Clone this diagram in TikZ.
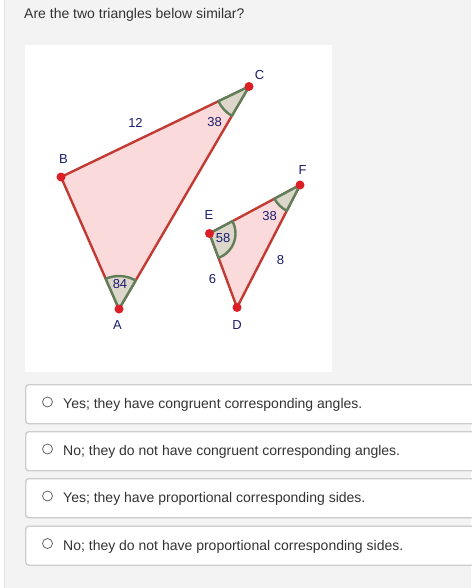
\documentclass[tikz,border=0pt]{standalone}
\usepackage{fontspec}
\setmainfont{Liberation Sans}

\definecolor{pagegrey}{HTML}{F3F3F3}
\definecolor{edgegrey}{HTML}{E0E0E0}
\definecolor{boxgrey}{HTML}{CDCDCD}
\definecolor{textgrey}{HTML}{333333}
\definecolor{radiogrey}{HTML}{666666}
\definecolor{edgered}{HTML}{C23B33}
\definecolor{pinkfill}{HTML}{FADADB}
\definecolor{dotred}{HTML}{DC1F26}
\definecolor{anggreen}{HTML}{5F7F58}
\definecolor{angfill}{HTML}{DDD6CB}
\definecolor{navy}{HTML}{1C1C72}

\begin{document}
\begin{tikzpicture}[x=1pt, y=-1pt,
		vertex/.style={circle, fill=dotred, inner sep=0pt, minimum size=9pt},
		lbl/.style={text=navy, font=\fontsize{13}{15}\selectfont, inner sep=0pt},
		side/.style={draw=edgered, fill=pinkfill, line width=2.4pt, line join=round},
		angmark/.style={draw=anggreen, fill=angfill, line width=2.4pt, line join=round},
		optbox/.style={draw=boxgrey, fill=white, line width=1.4pt, rounded corners=3pt, anchor=north west, inner sep=0pt, minimum width=470pt, minimum height=39pt},
		radio/.style={circle, draw=radiogrey, fill=white, line width=0.8pt, inner sep=0pt, minimum size=10pt},
		opttext/.style={anchor=base west, text=textgrey, font=\fontsize{14}{16}\selectfont, inner sep=0pt}]
		
		\useasboundingbox (0,0) rectangle (471,588);
		
		% Page
		
		\fill[white] (0,0) rectangle (471,588);
		\fill[pagegrey] (5,0) rectangle (471,588);
		\draw[edgegrey, line width=1pt] (4.5,0) -- (4.5,588);
		\fill[white] (25,45) rectangle (332,372);
		
		\node[opttext] (question) at (24,19) {Are the two triangles below similar?};
		
		% Vertices
		
		\coordinate (A) at (119,309);
		\coordinate (B) at (61,177);
		\coordinate (C) at (249,86.5);
		\coordinate (D) at (237,307.5);
		\coordinate (E) at (209.5,233.5);
		\coordinate (F) at (300,185);
		
		% Triangles
		
		\filldraw[side] (A) -- (B) -- (C) -- cycle;
		\filldraw[side] (D) -- (E) -- (F) -- cycle;
		
		% Angle marks
		
		\filldraw[angmark] (A) -- ++(246.3:33) arc[start angle=246.3, end angle=300.3, radius=33] -- cycle;
		\filldraw[angmark] (C) -- ++(120.3:34) arc[start angle=120.3, end angle=154.3, radius=34] -- cycle;
		\filldraw[angmark] (E) -- ++(-28.2:26) arc[start angle=-28.2, end angle=69.6, radius=26] -- cycle;
		\filldraw[angmark] (F) -- ++(117.2:29) arc[start angle=117.2, end angle=151.8, radius=29] -- cycle;
		
		% Dots
		
		\node[vertex] (dotA) at (A) {};
		\node[vertex] (dotB) at (B) {};
		\node[vertex] (dotC) at (C) {};
		\node[vertex] (dotD) at (D) {};
		\node[vertex] (dotE) at (E) {};
		\node[vertex] (dotF) at (F) {};
		
		% Labels
		
		\node[lbl] (labA) at (117.5,325) {A};
		\node[lbl] (labB) at (63.5,159.5) {B};
		\node[lbl] (labC) at (259.5,75) {C};
		\node[lbl] (labD) at (237,325.5) {D};
		\node[lbl] (labE) at (209,215.5) {E};
		\node[lbl] (labF) at (302.5,170.5) {F};
		
		\node[lbl] (sideBC) at (135.5,122.5) {12};
		\node[lbl] (angC) at (214.5,122.5) {38};
		\node[lbl] (angA) at (120,284.5) {84};
		\node[lbl] (angE) at (223,238.5) {58};
		\node[lbl] (angF) at (269.5,216.5) {38};
		\node[lbl] (sideDF) at (280.5,260) {8};
		\node[lbl] (sideDE) at (212.5,279.5) {6};
		
		% Answers
		
		\node[optbox] (opt1) at (25,384) {};
		\node[optbox] (opt2) at (25,431) {};
		\node[optbox] (opt3) at (25,478) {};
		\node[optbox] (opt4) at (25,525.5) {};
		
		\node[radio] (radio1) at (47.5,402) {};
		\node[radio] (radio2) at (47.5,449) {};
		\node[radio] (radio3) at (47.5,496) {};
		\node[radio] (radio4) at (47.5,543.5) {};
		
		\node[opttext] (ans1) at (63,408.5) {Yes; they have congruent corresponding angles.};
		\node[opttext] (ans2) at (63,455.5) {No; they do not have congruent corresponding angles.};
		\node[opttext] (ans3) at (63,502.5) {Yes; they have proportional corresponding sides.};
		\node[opttext] (ans4) at (63,550) {No; they do not have proportional corresponding sides.};
		
	\end{tikzpicture}
\end{document}
